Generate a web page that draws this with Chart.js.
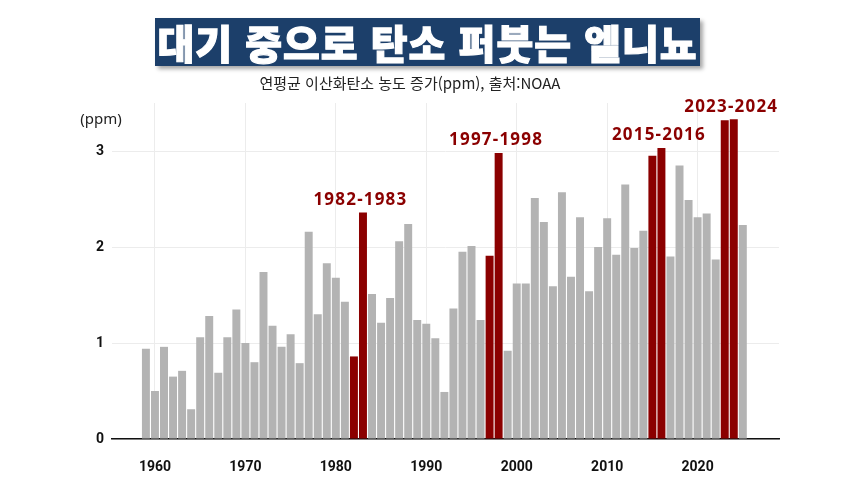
<!DOCTYPE html>
<html lang="ko">
<head>
<meta charset="UTF-8">
<title>대기 중으로 탄소 퍼붓는 엘니뇨</title>
<style>
  html, body { margin: 0; padding: 0; background: #fff; }
  body { width: 860px; height: 484px; position: relative; overflow: hidden; font-family: "Noto Sans CJK KR", "Noto Sans", sans-serif; }
  #title {
    position: absolute; left: 155px; top: 18px; width: 545px; height: 48px;
    background: #1c3f6a; color: #fff; text-align: center;
    font-size: 40px; font-weight: 900; line-height: 48px; letter-spacing: 1px;
    -webkit-text-stroke: 1.2px #fff;
    box-shadow: 3px 3px 4px rgba(0,0,0,0.35);
  }
  #sub {
    position: absolute; left: 252px; top: 72px; width: 316px; text-align: center;
    font-size: 15px; color: #222; line-height: 22px; white-space: nowrap;
  }
  #wrap { position: absolute; left: 0; top: 0; width: 860px; height: 484px; }
</style>
</head>
<body>
<div id="wrap"><canvas id="myChart" width="860" height="484"></canvas></div>
<div id="title">대기 중으로 탄소 퍼붓는 엘니뇨</div>
<div id="sub">연평균 이산화탄소 농도 증가(ppm), 출처:NOAA</div>

<script src="https://cdn.jsdelivr.net/npm/chart.js"></script>
<script>
  // annual CO2 growth (ppm)
  const years = [];
  for (let y = 1959; y <= 2025; y++) years.push(y);

  const growth = [
    0.94, 0.50, 0.96, 0.65, 0.71, 0.31, 1.06, 1.28, 0.69, 1.06,   // 1959-1968
    1.35, 1.00, 0.80, 1.74, 1.18, 0.96, 1.09, 0.79, 2.16, 1.30,   // 1969-1978
    1.83, 1.68, 1.43, 0.86, 2.36, 1.51, 1.21, 1.47, 2.06, 2.24,   // 1979-1988
    1.24, 1.20, 1.05, 0.49, 1.36, 1.95, 2.01, 1.24, 1.91, 2.98,   // 1989-1998
    0.92, 1.62, 1.62, 2.51, 2.26, 1.59, 2.57, 1.69, 2.31, 1.54,   // 1999-2008
    2.00, 2.30, 1.92, 2.65, 1.99, 2.17, 2.95, 3.03, 1.90, 2.85,   // 2009-2018
    2.49, 2.31, 2.35, 1.87, 3.32, 3.33, 2.23                      // 2019-2025
  ];

  const elNinoYears = [1982, 1983, 1997, 1998, 2015, 2016, 2023, 2024];
  const elNinoLabels = [
    { from: 1982, to: 1983, text: '1982-1983' },
    { from: 1997, to: 1998, text: '1997-1998' },
    { from: 2015, to: 2016, text: '2015-2016' },
    { from: 2023, to: 2024, text: '2023-2024' }
  ];
  const xTicks = [1960, 1970, 1980, 1990, 2000, 2010, 2020];
  const yTicks = [0, 1, 2, 3];

  const GRAY = '#b3b3b3', RED = '#8b0000';

  // red labels above the El Nino pairs + the (ppm) unit
  const labelPlugin = {
    id: 'elnino',
    afterDatasetsDraw(chart) {
      const { ctx, scales: { x, y } } = chart;
      ctx.save();
      ctx.fillStyle = RED;
      ctx.font = 'bold 17px "Noto Sans", sans-serif';
      ctx.letterSpacing = '1.2px';
      ctx.textAlign = 'center';
      ctx.textBaseline = 'bottom';
      elNinoLabels.forEach(l => {
        const top = Math.max(growth[years.indexOf(l.from)], growth[years.indexOf(l.to)]);
        ctx.fillText(l.text, x.getPixelForValue((l.from + l.to) / 2) + 2, y.getPixelForValue(top) - 4);
      });
      ctx.letterSpacing = '0px';
      ctx.fillStyle = '#222';
      ctx.font = '15px "Noto Sans", sans-serif';
      ctx.textBaseline = 'middle';
      ctx.fillText('(ppm)', 101, 120);
      ctx.restore();
    }
  };

  const ctx = document.getElementById('myChart');

  new Chart(ctx, {
    type: 'bar',
    data: {
      datasets: [{
        data: years.map((yr, i) => ({ x: yr, y: growth[i] })),
        backgroundColor: years.map(yr => elNinoYears.includes(yr) ? RED : GRAY),
        barPercentage: 0.88,
        categoryPercentage: 1
      }]
    },
    options: {
      responsive: false,
      animation: false,
      layout: { padding: { top: 103, right: 81, bottom: 0, left: 0 } },
      plugins: {
        legend: { display: false },
        tooltip: { enabled: false }
      },
      scales: {
        x: {
          type: 'linear',
          offset: false,
          min: 1955.25,
          max: 2029,
          afterBuildTicks: axis => { axis.ticks = xTicks.map(v => ({ value: v })); },
          afterFit: axis => { axis.height = 45; },
          grid: { color: '#ececec', drawTicks: false, offset: false },
          border: { color: '#111', width: 1.5 },
          ticks: {
            padding: 20,
            color: '#111',
            font: { family: 'Roboto', size: 14, weight: 'bold' },
            callback: v => String(v)
          }
        },
        y: {
          min: 0,
          max: 3.5,
          afterBuildTicks: axis => { axis.ticks = yTicks.map(v => ({ value: v })); },
          afterFit: axis => { axis.width = 112; },
          grid: { color: '#ececec', drawTicks: false },
          border: { display: false },
          ticks: {
            padding: 8,
            color: '#111',
            font: { family: 'Roboto', size: 14, weight: 'bold' }
          }
        }
      }
    },
    plugins: [labelPlugin]
  });
</script>
</body>
</html>
